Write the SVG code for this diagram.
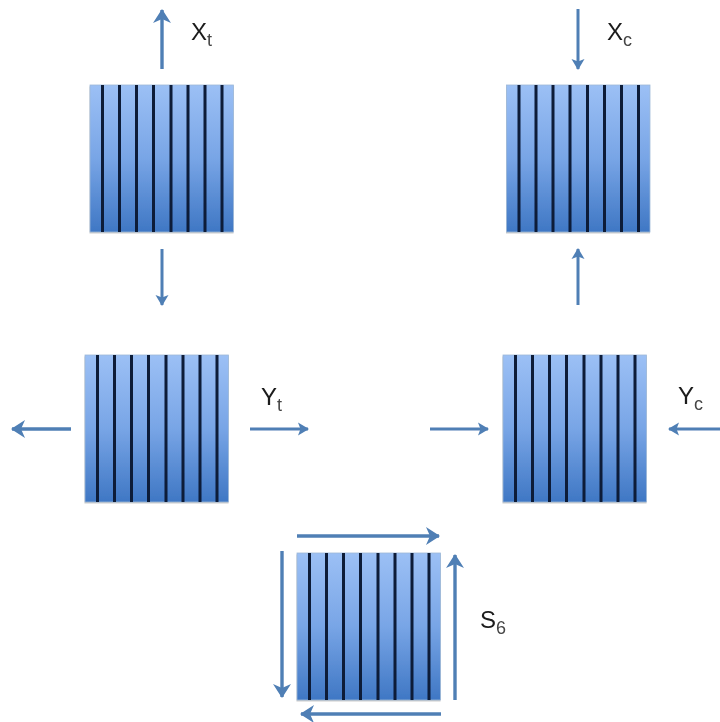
<svg xmlns="http://www.w3.org/2000/svg" width="720" height="722" viewBox="0 0 720 722">
<style>
.c{fill:none;stroke:#4f7fb5;stroke-width:3;marker-end:url(#a)}
.d{stroke-width:3.4;marker-end:url(#h)}
.s{fill:url(#g);stroke:#9db8d8;stroke-width:.8}
.r{stroke:#0a1a38;stroke-width:3;fill:none}
.sh{fill:#8a8a8a;opacity:.45}
text{font-family:"Liberation Sans",Arial,sans-serif;font-size:24px;fill:#1a1a1a}
.b{font-size:18px;fill:#444}
</style>
<defs>
<linearGradient id="g" x1="0" y1="0" x2="0" y2="1"><stop offset="0" stop-color="#9cc0f5"/><stop offset=".5" stop-color="#78a5e6"/><stop offset="1" stop-color="#3f77c4"/></linearGradient>
<marker id="a" markerUnits="userSpaceOnUse" markerWidth="16" markerHeight="16" refX="11" refY="8" orient="auto"><path d="M1 1.500L12 8L1 14.500L3.500 8Z" fill="#4f7fb5"/></marker>
<marker id="h" markerUnits="userSpaceOnUse" markerWidth="20" markerHeight="20" refX="14" refY="10" orient="auto"><path d="M1 1L15 10L1 19L5 10Z" fill="#4f7fb5"/></marker>
<filter id="f" x="-5%" y="-5%" width="110%" height="110%"><feGaussianBlur stdDeviation=".6"/></filter>
<g id="p">
<rect class="sh" x="-.5" y="1.5" width="144" height="147"/>
<rect class="s" width="143.500" height="147"/>
<path class="r" d="M12.500 0V147M29.500 0V147M46.500 0V147M63.500 0V147M81 0V147M98 0V147M115 0V147M132 0V147"/>
</g>
</defs>
<rect width="720" height="722" fill="#fff"/>
<g filter="url(#f)">
<g id="tl"><use href="#p" x="90" y="85"/></g>
<g id="tr"><use href="#p" x="506.500" y="85"/></g>
<g id="ml"><use href="#p" x="85" y="355"/></g>
<g id="mr"><use href="#p" x="503" y="355"/></g>
<g id="bm"><use href="#p" x="297" y="553"/></g>
<g id="connectors">
<path class="c d" d="M162 69V10"/>
<path class="c" d="M162 249V305"/>
<path class="c" d="M578 9V69"/>
<path class="c" d="M578 305V249"/>
<path class="c d" d="M71 429H12"/>
<path class="c" d="M250 429H308"/>
<path class="c" d="M430 429H488"/>
<path class="c" d="M720 429H669"/>
<path class="c d" d="M297 536H439"/>
<path class="c d" d="M282 551V697"/>
<path class="c d" d="M441 714H301"/>
<path class="c d" d="M455 700V555"/>
</g>
<g id="labels">
<text x="191" y="40">X<tspan class="b" dy="6">t</tspan></text>
<text x="607" y="40">X<tspan class="b" dy="6">c</tspan></text>
<text x="261" y="405">Y<tspan class="b" dy="6">t</tspan></text>
<text x="678" y="404">Y<tspan class="b" dy="6">c</tspan></text>
<text x="480" y="628">S<tspan class="b" dy="6">6</tspan></text>
</g>
</g>
</svg>
